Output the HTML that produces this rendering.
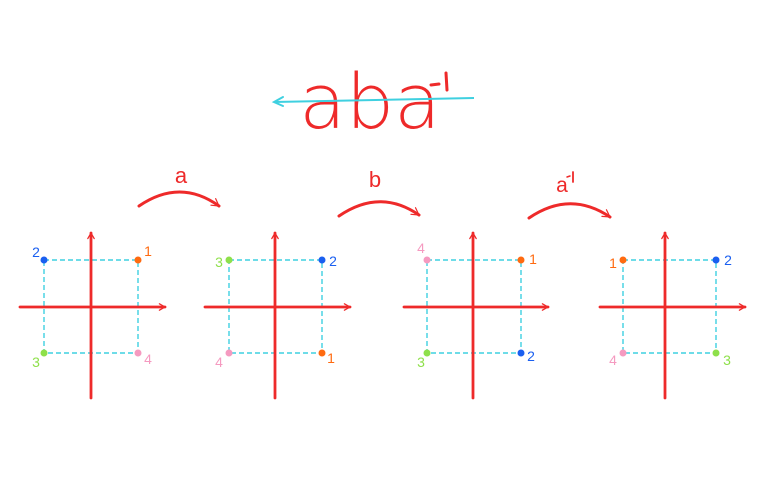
<!DOCTYPE html>
<html><head><meta charset="utf-8"><style>
html,body{margin:0;padding:0;background:#fff;}
svg{display:block;}
text{font-family:"Liberation Sans",sans-serif;}
.t{font-family:"DejaVu Sans ExtraLight","DejaVu Sans","Liberation Sans",sans-serif;font-weight:200;}
</style></head><body>
<svg width="768" height="480" viewBox="0 0 768 480" xmlns="http://www.w3.org/2000/svg">
<defs>
<marker id="ar" viewBox="0 0 10 10" refX="8" refY="5" markerWidth="8" markerHeight="8" orient="auto-start-reverse" markerUnits="userSpaceOnUse">
<path d="M1,1 L8,5 L1,9" fill="none" stroke="#ee2a2a" stroke-width="1.6" stroke-linecap="round"/>
</marker>
<marker id="arc" viewBox="0 0 10 10" refX="8" refY="5" markerWidth="10" markerHeight="10" orient="auto-start-reverse" markerUnits="userSpaceOnUse">
<path d="M1,1 L8,5 L1,9" fill="none" stroke="#ee2a2a" stroke-width="1.2" stroke-linecap="round"/>
</marker>
</defs>
<!-- title -->
<text class="t" x="370" y="128" text-anchor="middle" font-size="76" fill="#ee2a2a">aba</text>
<line x1="274" y1="102" x2="474" y2="98" stroke="#3fd0e0" stroke-width="2"/>
<path d="M283,97 L274,102 L283,106" fill="none" stroke="#3fd0e0" stroke-width="2" stroke-linecap="round"/>
<line x1="431" y1="85" x2="439" y2="84" stroke="#ee2a2a" stroke-width="3" stroke-linecap="round"/>
<line x1="446" y1="73" x2="447" y2="90" stroke="#ee2a2a" stroke-width="3" stroke-linecap="round"/>

<g fill="none" stroke="#ee2a2a" stroke-width="3" stroke-linecap="round">
<path d="M139,206 Q180,178 219,206" marker-end="url(#arc)"/>
<path d="M339,216 Q380,188 419,215" marker-end="url(#arc)"/>
<path d="M529,218 Q570,190 610,217" marker-end="url(#arc)"/>
</g>
<g fill="#ee2a2a" font-size="22">
<text x="181" y="183" text-anchor="middle">a</text>
<text x="375" y="187" text-anchor="middle">b</text>
<text x="562" y="192" text-anchor="middle" font-size="21">a</text>
</g>
<line x1="567" y1="177" x2="570" y2="176" stroke="#ee2a2a" stroke-width="1.5" stroke-linecap="round"/>
<line x1="573" y1="172" x2="573" y2="182" stroke="#ee2a2a" stroke-width="1.8" stroke-linecap="round"/>

<g fill="none" stroke="#3fd0e0" stroke-width="1.4" stroke-dasharray="5,3">
<rect x="44" y="260" width="94" height="93"/>
<rect x="229" y="260" width="93" height="93"/>
<rect x="427" y="260" width="94" height="93"/>
<rect x="623" y="260" width="93" height="93"/>
</g>
<g fill="none" stroke="#ee2a2a" stroke-width="2.8" stroke-linecap="round">
<line x1="91" y1="398" x2="91" y2="233" marker-end="url(#ar)"/>
<line x1="20" y1="307" x2="165" y2="307" marker-end="url(#ar)"/>
<line x1="275" y1="398" x2="275" y2="233" marker-end="url(#ar)"/>
<line x1="205" y1="307" x2="350" y2="307" marker-end="url(#ar)"/>
<line x1="473" y1="398" x2="473" y2="233" marker-end="url(#ar)"/>
<line x1="404" y1="307" x2="548" y2="307" marker-end="url(#ar)"/>
<line x1="665" y1="398" x2="665" y2="233" marker-end="url(#ar)"/>
<line x1="600" y1="307" x2="745" y2="307" marker-end="url(#ar)"/>
</g>
<g>
<circle cx="44" cy="260" r="3.5" fill="#1a5ff0"/><circle cx="138" cy="260" r="3.5" fill="#ff6a10"/>
<circle cx="44" cy="353" r="3.5" fill="#8ee04a"/><circle cx="138" cy="353" r="3.5" fill="#f59ac0"/>
<circle cx="229" cy="260" r="3.5" fill="#8ee04a"/><circle cx="322" cy="260" r="3.5" fill="#1a5ff0"/>
<circle cx="229" cy="353" r="3.5" fill="#f59ac0"/><circle cx="322" cy="353" r="3.5" fill="#ff6a10"/>
<circle cx="427" cy="260" r="3.5" fill="#f59ac0"/><circle cx="521" cy="260" r="3.5" fill="#ff6a10"/>
<circle cx="427" cy="353" r="3.5" fill="#8ee04a"/><circle cx="521" cy="353" r="3.5" fill="#1a5ff0"/>
<circle cx="623" cy="260" r="3.5" fill="#ff6a10"/><circle cx="716" cy="260" r="3.5" fill="#1a5ff0"/>
<circle cx="623" cy="353" r="3.5" fill="#f59ac0"/><circle cx="716" cy="353" r="3.5" fill="#8ee04a"/>
</g>
<g font-size="14" text-anchor="middle">
<text x="36" y="257" fill="#1a5ff0">2</text><text x="148" y="256" fill="#ff6a10">1</text>
<text x="36" y="367" fill="#8ee04a">3</text><text x="148" y="364" fill="#f59ac0">4</text>
<text x="219" y="267" fill="#8ee04a">3</text><text x="333" y="266" fill="#1a5ff0">2</text>
<text x="219" y="367" fill="#f59ac0">4</text><text x="331" y="363" fill="#ff6a10">1</text>
<text x="421" y="253" fill="#f59ac0">4</text><text x="533" y="264" fill="#ff6a10">1</text>
<text x="421" y="367" fill="#8ee04a">3</text><text x="531" y="361" fill="#1a5ff0">2</text>
<text x="613" y="268" fill="#ff6a10">1</text><text x="728" y="265" fill="#1a5ff0">2</text>
<text x="613" y="365" fill="#f59ac0">4</text><text x="727" y="365" fill="#8ee04a">3</text>
</g>
</svg>
</body></html>
